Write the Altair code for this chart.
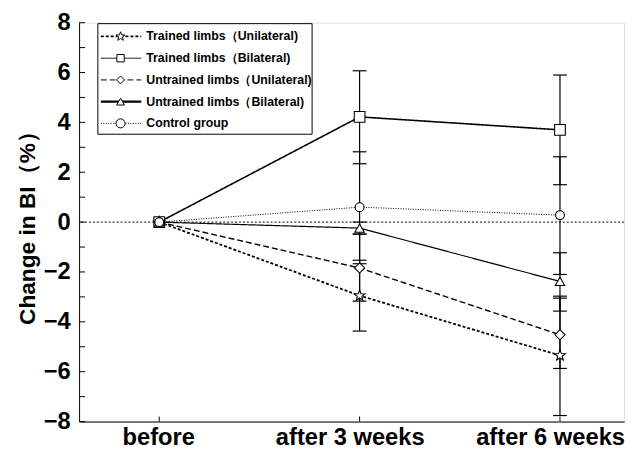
import math
import altair as alt
import pandas as pd

# ---------------- data ----------------
times = ["before", "after 3 weeks", "after 6 weeks"]
series = [
    "Trained limbs（Unilateral)",
    "Trained limbs（Bilateral)",
    "Untrained limbs（Unilateral)",
    "Untrained limbs（Bilateral)",
    "Control group",
]
mean_tr_uni = [0.0, -2.95, -5.35]
mean_tr_bi = [0.0, 4.22, 3.70]
mean_un_uni = [0.0, -1.84, -4.52]
mean_un_bi = [0.0, -0.24, -2.38]
mean_ctrl = [0.0, 0.60, 0.28]

# error bar ends (lower, upper) at after 3 weeks and after 6 weeks
lo_tr_uni = [-4.37, -7.76]
hi_tr_uni = [-1.53, -2.97]
lo_tr_bi = [2.34, 1.50]
hi_tr_bi = [6.07, 5.90]
lo_un_uni = [-3.17, -5.87]
hi_un_uni = [-0.48, -3.05]
lo_un_bi = [-0.48, -3.57]
hi_un_bi = [0.00, -1.23]
lo_ctrl = [-1.67, -2.10]
hi_ctrl = [2.82, 2.62]

y_ticks = [-8, -6, -4, -2, 0, 2, 4, 6, 8]

means = [mean_tr_uni, mean_tr_bi, mean_un_uni, mean_un_bi, mean_ctrl]
lows = [lo_tr_uni, lo_tr_bi, lo_un_uni, lo_un_bi, lo_ctrl]
highs = [hi_tr_uni, hi_tr_bi, hi_un_uni, hi_un_bi, hi_ctrl]

rows = []
for s, m in zip(series, means):
    for i, v in enumerate(m):
        rows.append({"series": s, "t": i, "value": v})
df = pd.DataFrame(rows)

erows = []
for s, lo, hi in zip(series, lows, highs):
    for j in range(2):
        erows.append({"series": s, "t": j + 1, "lo": lo[j], "hi": hi[j]})
edf = pd.DataFrame(erows)

# ---------------- styles ----------------
def star_path(r_in=0.42):
    pts = []
    for k in range(10):
        r = 1.0 if k % 2 == 0 else r_in
        a = -math.pi / 2 + k * math.pi / 5
        pts.append(f"{r*math.cos(a):.3f},{r*math.sin(a):.3f}")
    return "M" + " L".join(pts) + " Z"

STAR = star_path()
shapes = [STAR, "square", "diamond", "triangle-up", "circle"]
dashes = [[3, 2], [1, 0], [6, 3], [1, 0], [1, 1.5]]
widths = [1.8, 1.0, 1.0, 2.4, 1.0]
sizes = [130, 80, 90, 90, 120]

FONT = "Liberation Sans"
W, H = 552, 404

xscale = alt.Scale(domain=[-0.4, 2.32], nice=False, zero=False)
yscale = alt.Scale(domain=[-8, 8], nice=False, zero=False)

X = alt.X("t:Q", scale=xscale,
          axis=alt.Axis(values=[0, 1, 2], ticks=False, grid=False,
                        labelExpr="['before','after 3 weeks','after 6 weeks'][datum.value]",
                        labelFont=FONT, labelFontSize=24, labelFontWeight="bold",
                        labelColor="black", labelPadding=4, domainColor="black",
                        labelOffset={"condition": {"test": "datum.value == 0", "value": -1},
                                     "value": -10},
                        title=None))
Y = alt.Y("value:Q", scale=yscale,
          axis=alt.Axis(values=y_ticks, ticks=False, grid=False,
                        labelFont=FONT, labelFontSize=24, labelFontWeight="bold",
                        labelColor="black", labelPadding=9, domainColor="black",
                        title="Change in BI（%）", titleFont=FONT, titleFontSize=23,
                        titleFontWeight="bold", titleColor="black",
                        titleX=-52, titleY=H / 2, titleAngle=-90,
                        titleAlign="center", titleBaseline="middle"))

base = alt.Chart(df)

zero_line = alt.Chart(pd.DataFrame({"value": [0]})).mark_rule(
    color="black", strokeWidth=1, strokeDash=[2, 2]
).encode(y=alt.Y("value:Q", scale=yscale))

# inward axis ticks
yt = alt.Chart(pd.DataFrame({"value": list(range(-8, 9))})).mark_rule(
    color="black", strokeWidth=1
).encode(y=alt.Y("value:Q", scale=yscale), x=alt.value(0), x2=alt.value(6))
xt = alt.Chart(pd.DataFrame({"t": [0, 1, 2]})).mark_rule(
    color="black", strokeWidth=1
).encode(x=alt.X("t:Q", scale=xscale), y=alt.value(H), y2=alt.value(H - 5))

ebar = alt.Chart(edf).mark_rule(color="black", strokeWidth=1.2).encode(
    x=alt.X("t:Q", scale=xscale), y=alt.Y("lo:Q", scale=yscale), y2="hi:Q")
ecap_lo = alt.Chart(edf).mark_rule(color="black", strokeWidth=1.2, xOffset=-7, x2Offset=7).encode(
    x=alt.X("t:Q", scale=xscale), x2="t:Q", y=alt.Y("lo:Q", scale=yscale))
ecap_hi = alt.Chart(edf).mark_rule(color="black", strokeWidth=1.2, xOffset=-7, x2Offset=7).encode(
    x=alt.X("t:Q", scale=xscale), x2="t:Q", y=alt.Y("hi:Q", scale=yscale))

lines = base.mark_line(color="black").encode(
    x=X, y=Y,
    detail="series:N",
    strokeDash=alt.StrokeDash("series:N", scale=alt.Scale(domain=series, range=dashes), legend=None),
    strokeWidth=alt.StrokeWidth("series:N", scale=alt.Scale(domain=series, range=widths), legend=None),
)

points = base.mark_point(filled=True, fill="white", stroke="black", strokeWidth=1.1, opacity=1).encode(
    x=alt.X("t:Q", scale=xscale), y=alt.Y("value:Q", scale=yscale),
    shape=alt.Shape("series:N", scale=alt.Scale(domain=series, range=shapes), legend=None),
    size=alt.Size("series:N", scale=alt.Scale(domain=series, range=sizes), legend=None),
)

# ---------------- manual legend ----------------
LX0, LX1, LY0, LY1 = 19, 236, 1, 113
legend_layers = [
    alt.Chart(pd.DataFrame({"a": [0]})).mark_rect(fill="white", stroke="black", strokeWidth=1).encode(
        x=alt.value(LX0), x2=alt.value(LX1), y=alt.value(LY0), y2=alt.value(LY1))
]
for i, s in enumerate(series):
    yy = 14 + 22 * i
    one = alt.Chart(pd.DataFrame({"series": [s]}))
    legend_layers.append(one.mark_rule(color="black", strokeDash=dashes[i], strokeWidth=widths[i]).encode(
        x=alt.value(22), x2=alt.value(63), y=alt.value(yy)))
    legend_layers.append(one.mark_point(filled=True, fill="white", stroke="black", strokeWidth=1,
                                        opacity=1, shape=shapes[i], size=sizes[i] * 0.7).encode(
        x=alt.value(42), y=alt.value(yy)))
    legend_layers.append(one.mark_text(align="left", baseline="middle", font=FONT, fontSize=12.5,
                                       fontWeight="bold", color="black").encode(
        x=alt.value(68), y=alt.value(yy), text="series:N"))

chart = alt.layer(
    lines, zero_line, ebar, ecap_lo, ecap_hi, points, yt, xt, *legend_layers
).properties(
    width=W, height=H,
    autosize=alt.AutoSizeParams(type="none"),
    padding={"left": 72, "top": 12, "right": 7, "bottom": 28},
).configure_view(stroke=None).configure(background="white")

chart.save("out.html", embed_options={"renderer": "svg", "actions": False})
